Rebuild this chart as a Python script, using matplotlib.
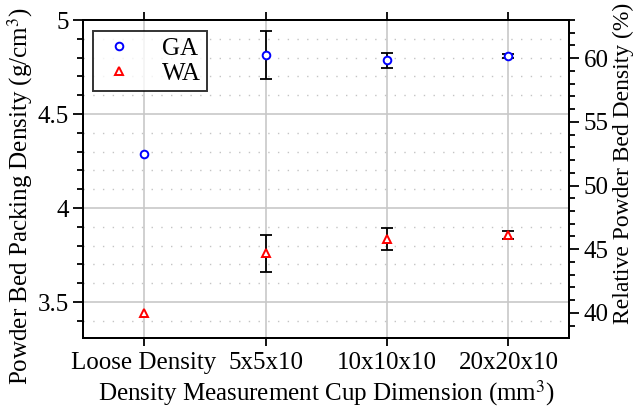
import numpy as np
import matplotlib.pyplot as plt
from matplotlib.ticker import MultipleLocator

plt.rcParams['font.family'] = ['Liberation Serif', 'DejaVu Serif']
plt.rcParams['mathtext.fontset'] = 'stix'

categories = ['Loose Density', '5x5x10', '10x10x10', '20x20x10']
ga_mean = [4.287, 4.814, 4.786, 4.808]
ga_err = [0.0, 0.13, 0.04, 0.01]
wa_mean = [3.44, 3.759, 3.835, 3.856]
wa_err = [0.0, 0.10, 0.06, 0.023]

x = np.arange(len(categories))

fig, ax = plt.subplots(figsize=(6.36, 4.17), dpi=100)
fig.subplots_adjust(left=0.131, right=0.895, top=0.952, bottom=0.19)

# error bars first, markers on top
ga_idx = [i for i, e in enumerate(ga_err) if e > 0]
wa_idx = [i for i, e in enumerate(wa_err) if e > 0]
ax.errorbar(x[ga_idx], np.array(ga_mean)[ga_idx], yerr=np.array(ga_err)[ga_idx],
            fmt='none', ecolor='black', elinewidth=1.3, capsize=4, capthick=1.3, zorder=3)
ax.errorbar(x[wa_idx], np.array(wa_mean)[wa_idx], yerr=np.array(wa_err)[wa_idx],
            fmt='none', ecolor='black', elinewidth=1.3, capsize=4, capthick=1.3, zorder=3)
ax.plot(x, ga_mean, 'o', mfc='white', mec='blue', mew=1.4, ms=5.5, ls='none', label='GA', zorder=4)
ax.plot(x, wa_mean, '^', mfc='white', mec='red', mew=1.4, ms=6, ls='none', label='WA', zorder=4)

ax.set_xlim(-0.5, 3.5)
ax.set_ylim(3.31, 5.0)
ax.set_xticks(x)
ax.set_xticklabels(categories)
ax.yaxis.set_major_locator(MultipleLocator(0.5))
ax.yaxis.set_minor_locator(MultipleLocator(0.1))
ax.set_yticks([3.5, 4, 4.5, 5])
ax.set_yticklabels(['3.5', '4', '4.5', '5'])

ax.grid(True, which='major', axis='both', color='#c8c8c8', lw=1.2, zorder=0)
ax.grid(True, which='minor', axis='y', color='#c4c4c4', lw=1.0, ls=(0, (1, 6)), zorder=0)
ax.set_axisbelow(True)

ax.tick_params(axis='x', which='both', direction='out', top=True, length=6, width=1.3, labelsize=18, pad=4)
ax.tick_params(axis='y', which='major', direction='out', length=7, width=1.3, labelsize=18)
ax.tick_params(axis='y', which='minor', direction='out', length=4, width=1.3)
for s in ax.spines.values():
    s.set_linewidth(1.4)

ax.set_xlabel('Density Measurement Cup Dimension (mm$^3$)', fontsize=18, labelpad=3)
ax.set_ylabel('Powder Bed Packing Density (g/cm$^3$)', fontsize=18)
ax.yaxis.set_label_coords(-0.10, 0.447)

ax2 = ax.twinx()
ax2.set_ylim(38.04, 63.0)
ax2.yaxis.set_major_locator(MultipleLocator(5))
ax2.yaxis.set_minor_locator(MultipleLocator(1))
ax2.tick_params(axis='y', which='major', direction='out', length=7, width=1.3, labelsize=18)
ax2.tick_params(axis='y', which='minor', direction='out', length=4, width=1.3)
ax2.set_ylabel('Relative Powder Bed Density (%)', fontsize=17)
ax2.yaxis.set_label_coords(1.09, 0.548)
for s in ax2.spines.values():
    s.set_linewidth(1.4)

leg = ax.legend(loc='upper left', fontsize=18, frameon=True, fancybox=False,
                edgecolor='black', borderpad=0.25, handlelength=1.6, handletextpad=0.9,
                labelspacing=0.1, borderaxespad=0.0, bbox_to_anchor=(0.02, 0.965))
leg.get_frame().set_linewidth(1.4)
leg.set_zorder(5)

fig.savefig('out.png', dpi=100)
